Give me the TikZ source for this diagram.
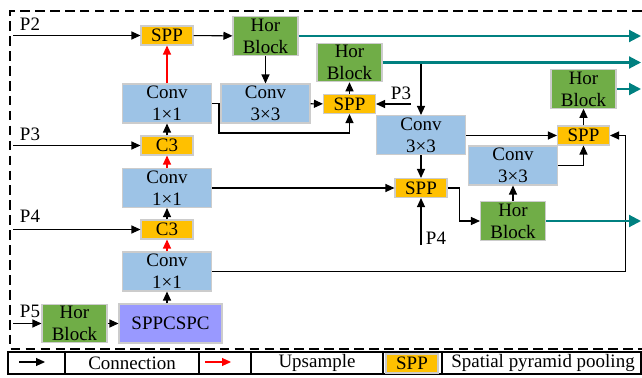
\documentclass[tikz,border=0pt]{standalone}
\usepackage{fontspec}
\setmainfont{Liberation Serif}
\usetikzlibrary{arrows.meta}

\definecolor{convblue}{RGB}{157,195,230}
\definecolor{sppyellow}{RGB}{255,192,0}
\definecolor{horgreen}{RGB}{112,173,71}
\definecolor{cspcpurple}{RGB}{153,153,255}
\definecolor{outteal}{RGB}{0,128,128}

\tikzset{
  box/.style={draw=black!20, line width=0.6pt, inner sep=0pt, align=center},
  conv/.style={box, fill=convblue, minimum width=1.78cm, minimum height=0.78cm},
  spp/.style={box, fill=sppyellow, minimum width=1.04cm, minimum height=0.38cm},
  hor/.style={box, fill=horgreen, minimum width=1.3cm, minimum height=0.77cm},
  conn/.style={-{Triangle[length=1.8mm,width=1.6mm]}, line width=0.6pt},
  upsample/.style={conn, red},
  tealarrow/.style={-{Triangle[length=2.4mm,width=2.4mm]}, line width=1.2pt, outteal}
}

\begin{document}
\begin{tikzpicture}[x=0.02cm, y=-0.02cm, font=\fontsize{10.8}{12.4}\selectfont]
    \useasboundingbox (0,0) rectangle (642,378);
    % frame
    \draw[dash pattern=on 5.5pt off 3pt, line width=0.8pt] (642,11) -- (10,11) -- (10,349) -- (642,349);

    % left column
    \node[spp] (sppTop) at (167,35.5) {SPP};
    \node[hor] (horTop) at (265.5,36) {Hor\\Block};
    \node[conv] (convTop) at (167,103.5) {Conv\\1×1};
    \node[conv] (conv3Top) at (265.5,103.5) {Conv\\3×3};
    \node[spp] (c3Up) at (167,145.5) {C3};
    \node[conv] (convMid) at (167,188) {Conv\\1×1};
    \node[spp] (c3Low) at (167,229.5) {C3};
    \node[conv] (convBot) at (167,271.5) {Conv\\1×1};
    \node[box, fill=cspcpurple, minimum width=2.06cm, minimum height=0.78cm] (sppcspc) at (170.5,323.5) {SPPCSPC};
    \node[hor] (horP5) at (74.5,323.5) {Hor\\Block};

    % right part
    \node[hor] (horMid) at (349.5,62.5) {Hor\\Block};
    \node[spp] (sppMid) at (349.5,104) {SPP};
    \node[conv] (conv3Mid) at (421,135) {Conv\\3×3};
    \node[spp] (sppLow) at (421,188) {SPP};
    \node[hor] (horLow) at (513,221) {Hor\\Block};
    \node[conv] (conv3Low) at (513,165.5) {Conv\\3×3};
    \node[spp] (sppR) at (583.5,135.5) {SPP};
    \node[hor] (horR) at (583.5,89) {Hor\\Block};

    % inputs
    \coordinate (inP2) at (13,35.5);
    \coordinate (inP3) at (13,145.5);
    \coordinate (inP4) at (13,229.5);
    \coordinate (inP5) at (13,323.5);
    \coordinate (inP3b) at (411,104);
    \coordinate (inP4b) at (421,245);
    \coordinate (outEdge) at (641,0);
    \node (lP2) at (30,24.5) {P2};
    \node (lP3) at (30,134) {P3};
    \node (lP4) at (30,216.5) {P4};
    \node (lP5) at (30,311) {P5};
    \node (lP3b) at (401,93.5) {P3};
    \node (lP4b) at (436,238) {P4};

    \draw[conn] (inP2) -- (sppTop.west);
    \draw[conn] (inP3) -- (c3Up.west);
    \draw[conn] (inP4) -- (c3Low.west);
    \draw[conn] (inP5) -- (horP5.west);
    \draw[conn] (inP3b) -- (sppMid.east);
    \draw[conn] (inP4b) -- (sppLow.south);

    % upward path
    \draw[conn] (horP5) -- (sppcspc);
    \draw[conn] (convBot.south |- sppcspc.north) -- (convBot.south);
    \draw[upsample] (convBot.north) -- (c3Low.south);
    \draw[conn] (c3Low.north) -- (convMid.south);
    \draw[upsample] (convMid.north) -- (c3Up.south);
    \draw[conn] (c3Up.north) -- (convTop.south);
    \draw[upsample] (convTop.north) -- (sppTop.south);

    % downward path
    \draw[conn] (sppTop) -- (horTop);
    \draw[conn] (horTop) -- (conv3Top);
    \draw[conn] (conv3Top) -- (sppMid);
    \draw[conn] (convTop.east) -- ++(7,0) |- ([yshift=-0.38cm]sppMid.south) -- (sppMid.south);
    \draw[conn] (sppMid) -- (horMid);
    \draw[conn] (conv3Mid.north |- horMid.east) -- (conv3Mid.north);
    \draw[conn] (conv3Mid) -- (sppLow);
    \draw[conn] (convMid.east) -- (sppLow.west);
    \draw[conn] (sppLow.east) -- ++(12,0) |- (horLow.west);
    \draw[conn] (horLow) -- (conv3Low);
    \draw[conn] (conv3Mid.east |- sppR.west) -- (sppR.west);
    \draw[conn] (conv3Low.east) -| (sppR.south);
    \draw[conn] (convBot.east) -| ([xshift=0.3cm]sppR.east) -- (sppR.east);
    \draw[conn] (sppR) -- (horR);

    % outputs
    \draw[tealarrow] (horTop.east) -- (horTop.east -| outEdge);
    \draw[tealarrow] (horMid.east) -- (horMid.east -| outEdge);
    \draw[tealarrow] (horR.east) -- (horR.east -| outEdge);
    \draw[tealarrow] (horLow.east) -- (horLow.east -| outEdge);

    % legend
    \draw[line width=0.8pt] (8,352) rectangle (641,374);
    \foreach \x in {65,199,251,383,442}
      \draw[line width=0.8pt] (\x,352) -- (\x,374);
    \coordinate (lgA) at (19,362);
    \coordinate (lgB) at (45,362);
    \coordinate (lgC) at (205,362);
    \coordinate (lgD) at (231,362);
    \draw[conn] (lgA) -- (lgB);
    \draw[upsample] (lgC) -- (lgD);
    \node (lgConn) at (132,363) {Connection};
    \node (lgUp) at (317,363) {Upsample};
    \node[spp, minimum width=1.04cm] (lgSpp) at (412,363.5) {SPP};
    \node (lgSppText) at (543,363) {Spatial pyramid pooling};
\end{tikzpicture}
\end{document}
